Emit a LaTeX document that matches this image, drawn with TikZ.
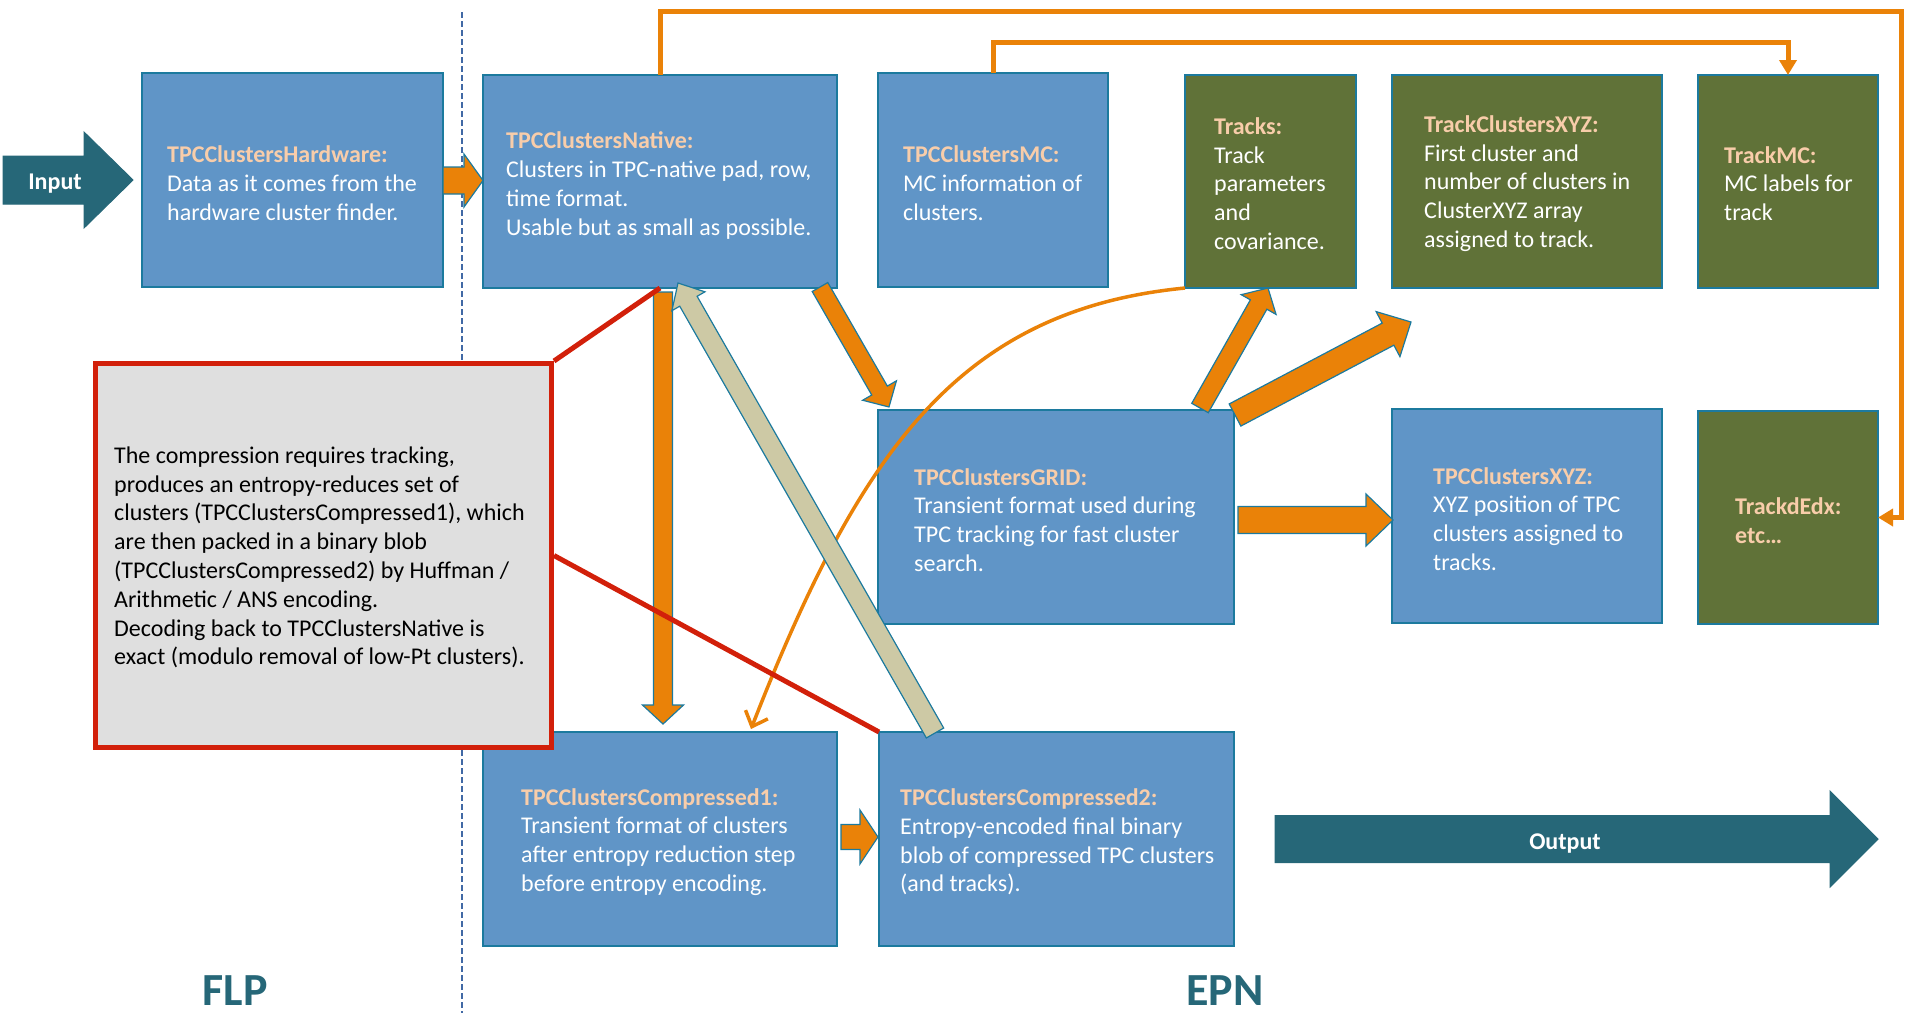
\documentclass[tikz,border=0pt]{standalone}
\usepackage{fontspec}
\setmainfont{Carlito}
\usetikzlibrary{calc,arrows.meta}
\definecolor{boxblue}{RGB}{96,149,199}
\definecolor{boxgreen}{RGB}{96,114,56}
\definecolor{bordc}{RGB}{28,122,158}
\definecolor{peach}{RGB}{248,205,170}
\definecolor{orng}{RGB}{234,130,8}
\definecolor{beige}{RGB}{205,201,165}
\definecolor{tealc}{RGB}{38,103,120}
\definecolor{redc}{RGB}{210,32,10}
\definecolor{grayc}{RGB}{223,223,223}
\definecolor{dashc}{RGB}{65,105,165}
\tikzset{
  box/.style={draw=bordc, line width=1.5pt, anchor=north west, inner sep=0pt, outer sep=0pt},
  bluebox/.style={box, fill=boxblue},
  greenbox/.style={box, fill=boxgreen},
  txt/.style={anchor=west, align=left, text=white, inner sep=0pt, font=\fontsize{24}{28.8}\selectfont},
  oarr/.style={fill=orng, draw=bordc, line width=1.2pt, line join=miter},
  barr/.style={fill=beige, draw=bordc, line width=1.2pt, line join=miter},
  tarr/.style={fill=tealc, draw=tealc, line width=1pt, line join=miter},
  conn/.style={draw=orng, line width=5pt},
  redline/.style={draw=redc, line width=5pt},
}
\newcommand\ttl[1]{\textcolor{peach}{\textbf{#1}}}
% #1 style, #2 tail, #3 tip, #4 half shaft, #5 half head, #6 head length
\newcommand\blockarr[6]{%
  \coordinate (tmpH) at ($(#3)!#6!(#2)$);
  \draw[#1] ($(#2)!#4!90:(#3)$) -- ($(tmpH)!#4!90:(#3)$) -- ($(tmpH)!#5!90:(#3)$)
    -- (#3) -- ($(tmpH)!#5!-90:(#3)$) -- ($(tmpH)!#4!-90:(#3)$) -- ($(#2)!#4!-90:(#3)$) -- cycle;
}
\begin{document}
\begin{tikzpicture}[x=1pt,y=-1pt]
\useasboundingbox (0,0) rectangle (1905,1013);
% FLP / EPN divider
\draw[dashc, line width=1.2pt, dash pattern=on 6pt off 3pt] (462,12) -- (462,1013);

% boxes
\node[bluebox, minimum width=301pt, minimum height=214pt] (hw) at (142,73) {};
\node[bluebox, minimum width=354pt, minimum height=213pt] (nat) at (483,75) {};
\node[bluebox, minimum width=230pt, minimum height=214pt] (mc) at (878,73) {};
\node[greenbox, minimum width=171pt, minimum height=213pt] (trk) at (1185,75) {};
\node[greenbox, minimum width=270pt, minimum height=213pt] (tcx) at (1392,75) {};
\node[greenbox, minimum width=180pt, minimum height=213pt] (tmc) at (1698,75) {};
\node[bluebox, minimum width=356pt, minimum height=214pt] (grid) at (878,410) {};
\node[bluebox, minimum width=270pt, minimum height=214pt] (xyz) at (1392,409) {};
\node[greenbox, minimum width=180pt, minimum height=213pt] (dedx) at (1698,411) {};
\node[bluebox, minimum width=354pt, minimum height=214pt] (c1) at (483,732) {};
\node[bluebox, minimum width=355pt, minimum height=214pt] (c2) at (879,732) {};

% elbow connectors
\draw[conn, -{Triangle[length=15pt,width=17pt]}] (nat.north) |- (1901,11) |- (dedx.east);
\draw[conn, -{Triangle[length=15pt,width=17pt]}] (mc.north) -- ++(0,-31) -| (tmc.north);

% curve from Tracks to Compressed1
\coordinate (c1in) at ($(c1.north west)+(268,-3)$);
\draw[draw=orng, line width=3.5pt, -{Straight Barb[length=13pt,width=24pt,line width=3.5pt]}]
  (trk.south west) .. controls (960,310) and (860,450) .. (c1in);

% block arrows
\coordinate (inA) at (3,180);
\coordinate (inB) at (133,180);
\blockarr{tarr}{inA}{inB}{24pt}{48pt}{49pt}
\coordinate (hwA) at (443,180.5);
\coordinate (hwB) at (483,180.5);
\blockarr{oarr}{hwA}{hwB}{13.5pt}{26.5pt}{19pt}
\coordinate (ndA) at (663,292);
\coordinate (ndB) at (663,724);
\blockarr{oarr}{ndA}{ndB}{9.5pt}{20.5pt}{19pt}
\coordinate (bgA) at (935,733);
\coordinate (bgB) at (678,283);
\blockarr{barr}{bgA}{bgB}{10pt}{19pt}{21pt}
\coordinate (ngA) at (820,287);
\coordinate (ngB) at (889,407);
\blockarr{oarr}{ngA}{ngB}{9pt}{19.5pt}{19pt}
\coordinate (gtA) at (1200,408);
\coordinate (gtB) at (1268,288);
\blockarr{oarr}{gtA}{gtB}{9.5pt}{20pt}{19pt}
\coordinate (gcA) at (1235,415);
\coordinate (gcB) at (1411,322);
\blockarr{oarr}{gcA}{gcB}{12.5pt}{25.5pt}{26pt}
\coordinate (gxA) at (1238,520);
\coordinate (gxB) at (1393,520);
\blockarr{oarr}{gxA}{gxB}{13.5pt}{26pt}{27pt}
\coordinate (ccA) at (841,837);
\coordinate (ccB) at (878,837);
\blockarr{oarr}{ccA}{ccB}{12.5pt}{27pt}{18pt}
\coordinate (outA) at (1275,839);
\coordinate (outB) at (1878,839);
\blockarr{tarr}{outA}{outB}{23.5pt}{48pt}{48pt}

% note box
\node[draw=redc, fill=grayc, line width=5pt, anchor=north west, inner sep=0pt,
      minimum width=456pt, minimum height=384pt] (note) at (93,361) {};
\draw[redline] (note.north east) -- (nat.south);
\draw[redline] (note.east) -- (c2.north west);

% texts
\node[txt] (hwt) at ($(hw.west)+(25,3)$) {\ttl{TPCClustersHardware:}\\Data as it comes from the\\hardware cluster finder.};
\node[txt] (natt) at ($(nat.west)+(23,4)$) {\ttl{TPCClustersNative:}\\Clusters in TPC-native pad, row,\\time format.\\Usable but as small as possible.};
\node[txt] (mct) at ($(mc.west)+(25,3)$) {\ttl{TPCClustersMC:}\\MC information of\\clusters.};
\node[txt] (trkt) at ($(trk.west)+(29,2)$) {\ttl{Tracks:}\\Track\\parameters\\and\\covariance.};
\node[txt] (tcxt) at ($(tcx.west)+(32,2)$) {\ttl{TrackClustersXYZ:}\\First cluster and\\number of clusters in\\ClusterXYZ array\\assigned to track.};
\node[txt] (tmct) at ($(tmc.west)+(26,2)$) {\ttl{TrackMC:}\\MC labels for\\track};
\node[txt] (gridt) at ($(grid.west)+(36,3)$) {\ttl{TPCClustersGRID:}\\Transient format used during\\TPC tracking for fast cluster\\search.};
\node[txt] (xyzt) at ($(xyz.west)+(41,3)$) {\ttl{TPCClustersXYZ:}\\XYZ position of TPC\\clusters assigned to\\tracks.};
\node[txt] (dedxt) at ($(dedx.west)+(37,3)$) {\ttl{TrackdEdx:}\\\ttl{etc…}};
\node[txt] (c1t) at ($(c1.west)+(38,3)$) {\ttl{TPCClustersCompressed1:}\\Transient format of clusters\\after entropy reduction step\\before entropy encoding.};
\node[txt] (c2t) at ($(c2.west)+(21,3)$) {\ttl{TPCClustersCompressed2:}\\Entropy-encoded final binary\\blob of compressed TPC clusters\\(and tracks).};
\node[txt, text=black, font=\fontsize{24}{28.8}\selectfont] (notet) at ($(note.west)+(21,2)$) {The compression requires tracking,\\produces an entropy-reduces set of\\clusters (TPCClustersCompressed1), which\\are then packed in a binary blob\\(TPCClustersCompressed2) by Huffman /\\Arithmetic / ANS encoding.\\Decoding back to TPCClustersNative is\\exact (modulo removal of low-Pt clusters).};

\node[text=white, font=\fontsize{24}{28}\selectfont\bfseries, inner sep=0pt] (inl) at (55,184) {Input};
\node[text=white, font=\fontsize{24}{28}\selectfont\bfseries, inner sep=0pt] (outl) at (1565,843) {Output};
\node[text=tealc, font=\fontsize{46}{50}\selectfont\bfseries, anchor=base, inner sep=0pt] (flp) at (235,1005) {FLP};
\node[text=tealc, font=\fontsize{46}{50}\selectfont\bfseries, anchor=base, inner sep=0pt] (epn) at (1225,1005) {EPN};
\end{tikzpicture}
\end{document}
